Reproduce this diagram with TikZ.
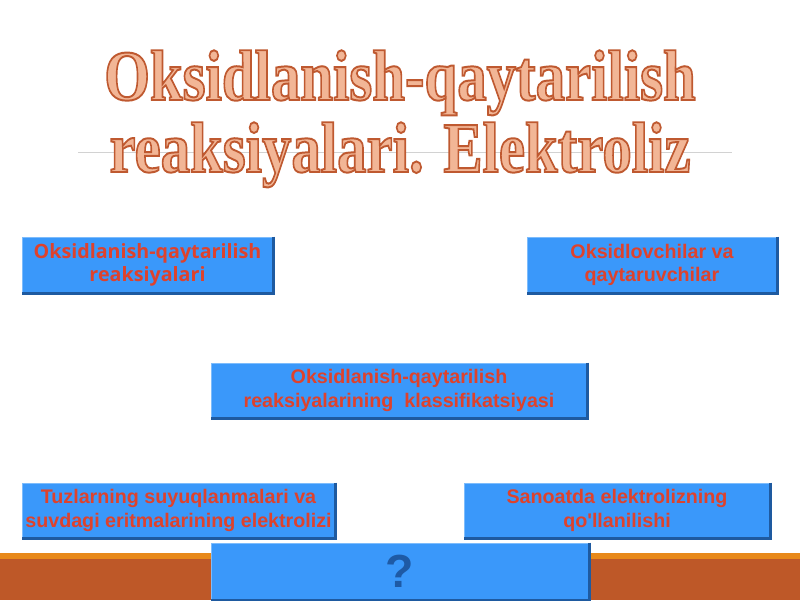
\documentclass[tikz,border=0pt]{standalone}
\usepackage{fontspec}
\usepackage{graphicx}
\usepackage{tikz}
\usetikzlibrary{calc}
\newfontfamily\headfont{Liberation Serif}
\newfontfamily\panelfont{Liberation Sans}
\newfontfamily\openfont{Open Sans}
\definecolor{panelblue}{RGB}{58,152,250}
\definecolor{paneledge}{RGB}{30,90,160}
\definecolor{panellight}{RGB}{125,188,252}
\definecolor{panelred}{RGB}{222,66,44}
\definecolor{titlefill}{RGB}{242,182,150}
\definecolor{bandorange}{RGB}{232,137,26}
\definecolor{bandbrown}{RGB}{190,88,40}
\definecolor{askblue}{RGB}{30,90,165}
\newcommand{\outlinetext}[1]{{\color{titlefill}\special{pdf:literal direct 2 Tr 1.4 w 0.75 0.35 0.19 RG}#1\special{pdf:literal direct 0 Tr}}}

\begin{document}
\begin{tikzpicture}[x=0.025cm,y=-0.025cm]
    \tikzset{panel/.style={fill=panelblue, draw=panellight, line width=0.5pt, minimum width=#1, minimum height=1.4cm, inner sep=0pt, align=center, text=panelred, font=\panelfont\bfseries\fontsize{14}{16.6}\selectfont}}
    \tikzset{panel edge/.style={paneledge, line width=2pt}}
    \useasboundingbox (0,0) rectangle (800,600);

    \coordinate (rule_start) at (78,152);
    \coordinate (rule_end) at (732,152);

    %bottom band
    \fill [bandorange] (0,553) rectangle (800,559);
    \fill [bandbrown] (0,559) rectangle (800,600);

    %Title
    \draw [gray!35, line width=0.6pt] (rule_start) -- (rule_end);
    \node[anchor=base, inner sep=0pt, font=\headfont\bfseries\fontsize{51}{51}\selectfont] (title_top) at (400,100) {\scalebox{0.82}[1]{\outlinetext{Oksidlanish-qaytarilish}}};
    \node[anchor=base, inner sep=0pt, font=\headfont\bfseries\fontsize{51}{51}\selectfont] (title_bottom) at (400,172) {\scalebox{0.82}[1]{\outlinetext{reaksiyalari. Elektroliz}}};

    %Panels
    \node[panel=6.275cm, font=\openfont\bfseries\fontsize{14}{16.6}\selectfont] (oxred) at (147.5,265) {Oksidlanish-qaytarilish\\reaksiyalari};
    \node[panel=6.25cm] (agents) at (652,265) {Oksidlovchilar va\\qaytaruvchilar};
    \node[panel=9.4cm, minimum height=1.375cm] (classes) at (399,390.5) {Oksidlanish-qaytarilish\\reaksiyalarining\ \ klassifikatsiyasi};
    \node[panel=7.825cm, minimum height=1.375cm] (melts) at (178.5,510.5) {Tuzlarning suyuqlanmalari va\\suvdagi eritmalarining elektrolizi};
    \node[panel=7.65cm, minimum height=1.375cm] (industry) at (617,510.5) {Sanoatda elektrolizning\\qo'llanilishi};
    \node[panel=9.45cm, minimum height=1.425cm, text=askblue, font=\panelfont\bfseries\fontsize{33}{33}\selectfont] (ask) at (400,571.5) {?};

    %shadow edges
    \foreach \p in {oxred,agents,classes,melts,industry,ask}
        \draw [panel edge] (\p.north east) -- (\p.south east) -- (\p.south west);
\end{tikzpicture}
\end{document}
